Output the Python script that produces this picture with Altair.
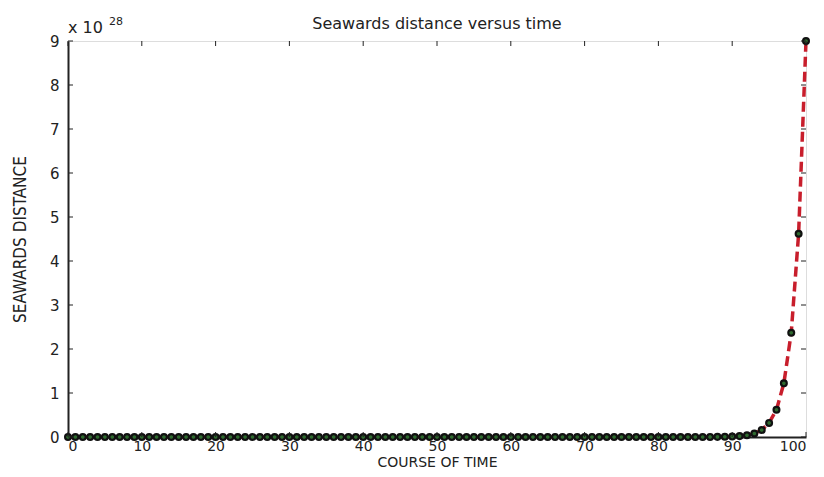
import altair as alt
import pandas as pd

# course of time (x) and seawards distance (in units of 1e28)
time_steps = list(range(0, 101))
distance_e28 = [
    0, 0, 0, 0, 0, 0, 0, 0, 0, 0,
    0, 0, 0, 0, 0, 0, 0, 0, 0, 0,
    0, 0, 0, 0, 0, 0, 0, 0, 0, 0,
    0, 0, 0, 0, 0, 0, 0, 0, 0, 0,
    0, 0, 0, 0, 0, 0, 0, 0, 0, 0,
    0, 0, 0, 0, 0, 0, 0, 0, 0, 0,
    0, 0, 0, 0, 0, 0, 0, 0, 0, 0,
    0, 0, 0, 0, 0, 0, 0, 0, 0, 0,
    0.0001, 0.0001, 0.0002, 0.0003, 0.0005, 0.0008, 0.0012, 0.002, 0.003, 0.005,
    0.01, 0.02, 0.04, 0.08, 0.16, 0.32, 0.62, 1.22, 2.37, 4.62,
    9.0,
]
x_ticks = [0, 10, 20, 30, 40, 50, 60, 70, 80, 90, 100]
y_ticks = [0, 1, 2, 3, 4, 5, 6, 7, 8, 9]
title_text = "Seawards distance versus time"
x_title = "COURSE OF TIME"
y_title = "SEAWARDS DISTANCE"

W, H = 738, 396
FONT = "DejaVu Sans"

df = pd.DataFrame({"t": time_steps, "d": distance_e28})
xt = pd.DataFrame({"v": x_ticks})
yt = pd.DataFrame({"v": y_ticks})

xs = alt.Scale(domain=[0, 100], nice=False, zero=False)
ys = alt.Scale(domain=[0, 9], nice=False)

x_enc = alt.X("t:Q", scale=xs,
              axis=alt.Axis(values=x_ticks, title=x_title, grid=False,
                            tickSize=0, labelPadding=2, titlePadding=2,
                            labelFont=FONT, labelFontSize=14, labelColor="#222",
                            titleFont=FONT, titleFontSize=14, titleFontWeight="normal",
                            titleColor="#222", domainColor="#222", domainWidth=2))
y_enc = alt.Y("d:Q", scale=ys,
              axis=alt.Axis(values=y_ticks, title=y_title, grid=False,
                            tickSize=0, labelPadding=9, titlePadding=20,
                            labelFont=FONT, labelFontSize=15, labelColor="#222",
                            titleFont="Liberation Sans Narrow, DejaVu Sans Condensed, Liberation Sans",
                            titleFontSize=17, titleFontWeight="normal",
                            titleColor="#222", domainColor="#222", domainWidth=2))

line = alt.Chart(df).mark_line(color="#c81e2c", strokeWidth=3.5, strokeDash=[10, 5]).encode(
    x=x_enc, y=y_enc)

points = alt.Chart(df).mark_point(shape="circle", filled=False, size=34, stroke="#111",
                                  strokeWidth=2.2, fill="#2f6b2f", fillOpacity=1).encode(
    x=alt.X("t:Q", scale=xs), y=alt.Y("d:Q", scale=ys))

tick_len = 5
bottom_ticks = alt.Chart(xt).mark_rule(color="#222", strokeWidth=1).encode(
    x=alt.X("v:Q", scale=xs), y=alt.value(H), y2=alt.value(H - tick_len))
top_ticks = alt.Chart(xt).mark_rule(color="#222", strokeWidth=1).encode(
    x=alt.X("v:Q", scale=xs), y=alt.value(0), y2=alt.value(tick_len))
left_ticks = alt.Chart(yt).mark_rule(color="#222", strokeWidth=1).encode(
    y=alt.Y("v:Q", scale=ys), x=alt.value(0), x2=alt.value(tick_len))
right_ticks = alt.Chart(yt).mark_rule(color="#222", strokeWidth=1).encode(
    y=alt.Y("v:Q", scale=ys), x=alt.value(W), x2=alt.value(W - tick_len))

title_mark = alt.Chart(pd.DataFrame({"s": [title_text]})).mark_text(
    align="center", baseline="alphabetic", font=FONT, fontSize=16, color="#222").encode(
    text="s:N", x=alt.value(W / 2), y=alt.value(-12))
exp_label = alt.Chart(pd.DataFrame({"s": ["x 10"]})).mark_text(
    align="left", baseline="alphabetic", font=FONT, fontSize=16, color="#222").encode(
    text="s:N", x=alt.value(0), y=alt.value(-8))
exp_sup = alt.Chart(pd.DataFrame({"s": ["28"]})).mark_text(
    align="left", baseline="alphabetic", font=FONT, fontSize=11, color="#222").encode(
    text="s:N", x=alt.value(41), y=alt.value(-16))

chart = alt.layer(
    line, points, bottom_ticks, top_ticks, left_ticks, right_ticks,
    title_mark, exp_label, exp_sup
).properties(
    width=W, height=H,
    autosize=alt.AutoSizeParams(type="none"),
    padding={"left": 60, "top": 33, "right": 10, "bottom": 32},
).configure_view(stroke="#222", strokeWidth=1.5).configure(background="white")

chart.save("out.html", embed_options={"renderer": "svg", "actions": False})
